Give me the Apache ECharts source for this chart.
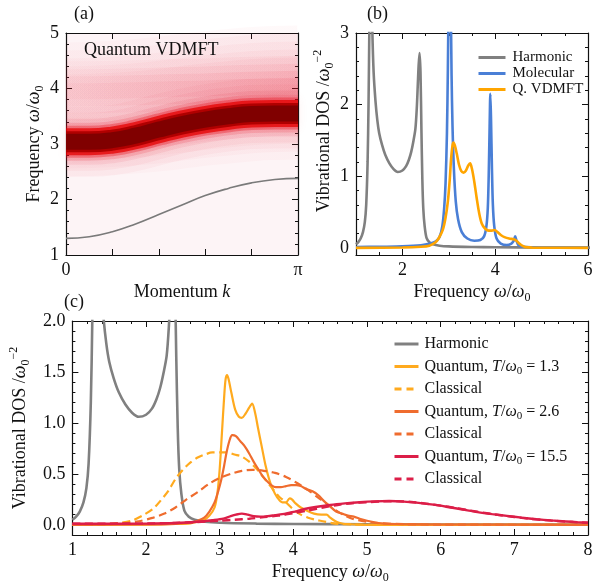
<!DOCTYPE html>
<html>
<head>
<meta charset="utf-8">
<script src="https://cdn.jsdelivr.net/npm/echarts@6/dist/echarts.min.js"></script>
<style>
  html, body { margin: 0; padding: 0; background: #fff; }
  #chart { width: 598px; height: 585px; }
</style>
</head>
<body>
<div id="chart"></div>
<script>
// ---------- (a) spectral function along the Brillouin zone ----------
const kOverPi      = [0, 0.1, 0.2, 0.3, 0.4, 0.5, 0.6, 0.7, 0.8, 0.9, 1.0];
const harmonicBand = [1.30, 1.33, 1.42, 1.56, 1.73, 1.90, 2.07, 2.20, 2.30, 2.36, 2.38];
const mainPeak     = [3.04, 3.04, 3.07, 3.15, 3.26, 3.36, 3.44, 3.50, 3.54, 3.55, 3.55];
const satellite    = [3.95, 3.95, 3.96, 3.97, 3.98, 3.99, 4.00, 4.02, 4.03, 4.04, 4.05];
const hazeCentre   = [3.62, 3.63, 3.65, 3.68, 3.72, 3.77, 3.82, 3.86, 3.90, 3.92, 3.93];

// ---------- (b) densities of states ----------
const harmonicDOS = [
  [1.00,0.05],[1.05,0.08],[1.10,0.13],[1.15,0.22],[1.19,0.36],[1.22,0.60],[1.25,1.20],[1.27,2.00],
  [1.29,3.20],[1.31,4.40],[1.33,4.00],[1.35,3.10],[1.38,2.45],[1.42,2.05],[1.46,1.78],[1.50,1.60],
  [1.56,1.44],[1.63,1.30],[1.72,1.18],[1.81,1.10],[1.90,1.06],[2.00,1.08],[2.08,1.14],[2.14,1.23],
  [2.19,1.34],[2.24,1.50],[2.28,1.66],[2.31,1.95],[2.33,2.25],[2.35,2.55],[2.37,2.72],[2.39,2.45],
  [2.41,1.65],[2.43,0.95],[2.45,0.55],[2.48,0.30],[2.52,0.14],[2.58,0.08],[2.66,0.05],[2.80,0.03],
  [3.00,0.02],[3.50,0.012],[4.00,0.008],[5.00,0.005],[6.00,0.003],[8.00,0.002]
];
const molecularDOS = [
  [1.00,0.01],[1.50,0.015],[2.00,0.02],[2.40,0.035],[2.60,0.06],[2.72,0.09],[2.80,0.15],[2.86,0.30],
  [2.90,0.55],[2.93,0.90],[2.96,1.60],[2.98,2.50],[3.00,3.60],[3.02,4.00],[3.04,3.50],[3.06,2.40],
  [3.08,1.70],[3.11,1.10],[3.15,0.65],[3.20,0.40],[3.28,0.22],[3.40,0.13],[3.55,0.10],[3.68,0.11],
  [3.76,0.16],[3.81,0.30],[3.84,0.55],[3.86,1.00],[3.88,1.70],[3.895,2.15],[3.91,1.80],[3.93,1.10],
  [3.95,0.60],[3.98,0.30],[4.03,0.13],[4.12,0.06],[4.25,0.04],[4.35,0.06],[4.40,0.10],[4.43,0.16],
  [4.46,0.10],[4.50,0.04],[4.60,0.015],[4.80,0.006],[5.00,0.004],[6.00,0.002]
];
const vdmftDOS = [
  [1.00,0.00],[2.00,0.005],[2.40,0.015],[2.58,0.03],[2.70,0.07],[2.78,0.13],[2.87,0.25],[2.93,0.42],
  [2.98,0.65],[3.02,0.95],[3.05,1.25],[3.08,1.43],[3.10,1.47],[3.13,1.43],[3.17,1.32],[3.22,1.16],
  [3.27,1.07],[3.32,1.05],[3.37,1.08],[3.42,1.15],[3.46,1.18],[3.50,1.10],[3.55,0.92],[3.60,0.70],
  [3.65,0.50],[3.71,0.34],[3.78,0.27],[3.86,0.24],[3.93,0.24],[3.99,0.25],[4.05,0.22],[4.12,0.18],
  [4.20,0.15],[4.30,0.13],[4.40,0.12],[4.46,0.10],[4.52,0.06],[4.58,0.03],[4.65,0.01],[4.80,0.003],[6.00,0.00]
];

// ---------- (c) temperature dependence ----------
const temperatures = ['1.3', '2.6', '15.5'];
const quantumLow = [
  [1.00,0.00],[2.00,0.002],[2.40,0.008],[2.60,0.015],[2.70,0.03],[2.79,0.05],[2.86,0.09],[2.93,0.17],
  [2.97,0.32],[3.00,0.55],[3.03,0.90],[3.06,1.25],[3.08,1.43],[3.10,1.47],[3.12,1.43],[3.16,1.29],
  [3.21,1.13],[3.26,1.06],[3.30,1.05],[3.35,1.09],[3.40,1.15],[3.44,1.19],[3.48,1.10],[3.52,0.95],
  [3.57,0.77],[3.62,0.59],[3.67,0.45],[3.72,0.35],[3.78,0.27],[3.85,0.22],[3.90,0.22],[3.95,0.26],
  [3.98,0.25],[4.03,0.21],[4.10,0.17],[4.18,0.14],[4.28,0.11],[4.38,0.10],[4.45,0.10],[4.50,0.07],
  [4.56,0.04],[4.62,0.02],[4.70,0.008],[5.00,0.00],[8.00,0.00]
];
const classicalLow = [
  [1.00,0.00],[1.40,0.005],[1.60,0.015],[1.80,0.04],[1.95,0.09],[2.10,0.16],[2.20,0.24],[2.30,0.33],
  [2.40,0.45],[2.50,0.54],[2.60,0.61],[2.70,0.66],[2.80,0.69],[2.90,0.71],[3.00,0.71],[3.10,0.71],
  [3.20,0.69],[3.30,0.67],[3.40,0.62],[3.50,0.55],[3.60,0.46],[3.70,0.37],[3.80,0.28],[3.90,0.22],
  [4.00,0.15],[4.10,0.10],[4.20,0.07],[4.30,0.05],[4.40,0.035],[4.50,0.02],[4.60,0.01],[4.80,0.003],
  [5.00,0.00],[8.00,0.00]
];
const quantumMid = [
  [1.00,0.00],[2.00,0.003],[2.40,0.01],[2.60,0.02],[2.70,0.04],[2.79,0.07],[2.86,0.13],[2.93,0.22],
  [2.98,0.33],[3.02,0.44],[3.06,0.58],[3.09,0.70],[3.13,0.82],[3.17,0.88],[3.22,0.87],[3.28,0.82],
  [3.34,0.77],[3.40,0.70],[3.46,0.62],[3.52,0.55],[3.58,0.48],[3.64,0.43],[3.70,0.39],[3.76,0.37],
  [3.83,0.37],[3.90,0.38],[3.97,0.39],[4.04,0.39],[4.10,0.38],[4.18,0.35],[4.26,0.33],[4.34,0.29],
  [4.42,0.23],[4.50,0.18],[4.58,0.13],[4.66,0.11],[4.74,0.09],[4.82,0.08],[4.90,0.06],[5.00,0.04],
  [5.10,0.025],[5.20,0.015],[5.40,0.008],[6.00,0.003],[8.00,0.00]
];
const classicalMid = [
  [1.00,0.00],[1.40,0.004],[1.70,0.015],[1.90,0.035],[2.10,0.07],[2.25,0.11],[2.40,0.17],[2.55,0.25],
  [2.70,0.32],[2.85,0.40],[3.00,0.46],[3.15,0.50],[3.30,0.53],[3.45,0.54],[3.60,0.53],[3.75,0.51],
  [3.90,0.47],[4.05,0.41],[4.20,0.34],[4.35,0.26],[4.50,0.18],[4.65,0.11],[4.80,0.06],[5.00,0.03],
  [5.20,0.015],[5.50,0.006],[6.00,0.002],[8.00,0.00]
];
const quantumHigh = [
  [1.00,0.01],[1.50,0.01],[2.00,0.012],[2.40,0.018],[2.70,0.03],[2.90,0.045],[3.05,0.06],[3.15,0.085],
  [3.22,0.10],[3.30,0.11],[3.38,0.10],[3.46,0.085],[3.55,0.08],[3.65,0.085],[3.75,0.095],[3.85,0.105],
  [3.95,0.12],[4.05,0.135],[4.15,0.155],[4.30,0.175],[4.50,0.195],[4.70,0.21],[4.90,0.222],[5.10,0.23],
  [5.30,0.233],[5.50,0.228],[5.70,0.215],[5.90,0.198],[6.10,0.175],[6.30,0.15],[6.50,0.125],[6.70,0.105],
  [6.90,0.088],[7.10,0.07],[7.30,0.055],[7.50,0.043],[7.70,0.033],[7.85,0.026],[8.00,0.02]
];
const classicalHigh = [
  [1.00,0.01],[1.50,0.01],[2.00,0.013],[2.40,0.018],[2.70,0.028],[3.00,0.04],[3.20,0.05],[3.40,0.06],
  [3.60,0.075],[3.80,0.09],[4.00,0.115],[4.20,0.14],[4.40,0.17],[4.60,0.195],[4.80,0.212],[5.00,0.222],
  [5.20,0.23],[5.40,0.232],[5.60,0.224],[5.80,0.208],[6.00,0.188],[6.20,0.165],[6.40,0.14],[6.60,0.117],
  [6.80,0.095],[7.00,0.077],[7.20,0.06],[7.40,0.047],[7.60,0.036],[7.80,0.027],[8.00,0.021]
];

// ---------- tick positions ----------
const kTickFrac   = [0, 0.2, 0.4, 0.6, 0.8, 1.0];
const kLabelFrac  = [0, 1];
const freqTicksA  = [1, 2, 3, 4, 5];
const freqTicksB  = [2, 4, 6];
const dosTicksB   = [0, 1, 2, 3];
const freqTicksC  = [1, 2, 3, 4, 5, 6, 7, 8];
const dosTicksC   = [0, 0.5, 1.0, 1.5, 2.0];

// ---------- helpers ----------
const FONT = '"Liberation Serif", "Times New Roman", serif';
const INK = '#111';
function steps(a, b, d) {
  const out = [];
  const n = Math.round((b - a) / d);
  for (let i = 0; i <= n; i++) out.push(+(a + i * d).toFixed(6));
  return out;
}
const mathRich = {
  i:   { fontFamily: FONT, fontStyle: 'italic', fontSize: 18, color: INK, lineHeight: 24 },
  sub: { fontFamily: FONT, fontSize: 12, color: INK, verticalAlign: 'bottom', lineHeight: 13 },
  sup: { fontFamily: FONT, fontSize: 12, color: INK, verticalAlign: 'top', lineHeight: 13 }
};
const legendRich = {
  i:   { fontFamily: FONT, fontStyle: 'italic', fontSize: 16, color: INK, lineHeight: 20 },
  sub: { fontFamily: FONT, fontSize: 11, color: INK, verticalAlign: 'bottom', lineHeight: 12 }
};

// Four axes per direction: labelled side, its minor ticks, mirrored side, its minor ticks
function frameAxes(grid, isX, min, max, majors, minors, labels, fmt, name, nameGap, margin, namePad) {
  const pos = isX ? ['bottom', 'top'] : ['left', 'right'];
  const base = { gridIndex: grid, type: 'value', min: min, max: max, splitLine: { show: false }, silent: true };
  const line = (show) => ({ show: show, onZero: false, lineStyle: { color: INK, width: 1.2 } });
  const tick = (vals, len) => ({ show: true, inside: true, length: len, customValues: vals, lineStyle: { color: INK, width: 1 } });
  return [
    Object.assign({}, base, {
      position: pos[0], axisLine: line(true), axisTick: tick(majors, 6),
      axisLabel: { show: true, customValues: labels, formatter: fmt, margin: margin, color: INK,
                   fontFamily: FONT, fontSize: 18, showMinLabel: true, showMaxLabel: true },
      name: name, nameLocation: 'middle', nameGap: nameGap,
      nameTextStyle: { fontFamily: FONT, fontSize: 18, color: INK, lineHeight: 24, rich: mathRich,
                       padding: namePad || 0 }
    }),
    Object.assign({}, base, { position: pos[0], axisLine: line(false), axisTick: tick(minors, 3), axisLabel: { show: false } }),
    Object.assign({}, base, { position: pos[1], axisLine: line(true), axisTick: tick(majors, 6), axisLabel: { show: false } }),
    Object.assign({}, base, { position: pos[1], axisLine: line(false), axisTick: tick(minors, 3), axisLabel: { show: false } })
  ];
}

const PI = Math.PI;
const xAxes = [].concat(
  frameAxes(0, true, 0, PI, kTickFrac.map(f => f * PI), [], kLabelFrac.map(f => f * PI),
            v => (v < 1e-6 ? '0' : 'π'), 'Momentum {i|k}', 21, 6),
  frameAxes(1, true, 1, 6, freqTicksB, steps(1, 6, 0.5), freqTicksB, v => String(v),
            'Frequency {i|ω}/{i|ω}{sub|0}', 20, 6),
  frameAxes(2, true, 1, 8, freqTicksC, steps(1, 8, 0.2), freqTicksC, v => String(v),
            'Frequency {i|ω}/{i|ω}{sub|0}', 25, 6)
);
const yAxes = [].concat(
  frameAxes(0, false, 1, 5, freqTicksA, steps(1, 5, 0.2), freqTicksA, v => String(v),
            'Frequency {i|ω}/{i|ω}{sub|0}', 18, 7),
  frameAxes(1, false, -0.1, 3, dosTicksB, steps(0, 3, 0.2), dosTicksB, v => String(v),
            'Vibrational DOS /{i|ω}{sub|0}{sup|−2}', 20, 7, [0, 0, 0, 26]),
  frameAxes(2, false, -0.1, 2.0, dosTicksC, steps(0, 2, 0.1), dosTicksC, v => v.toFixed(1),
            'Vibrational DOS /{i|ω}{sub|0}{sup|−2}', 30, 7)
);

// ---------- (a) band layers drawn along the peak positions ----------
const toK = arr => kOverPi.map((f, i) => [f * PI, arr[i]]);
const RED = a => 'rgba(232,20,45,' + a + ')';
function band(arr, width, color, glow) {
  return {
    type: 'line', xAxisIndex: 0, yAxisIndex: 0, data: toK(arr), smooth: true,
    symbol: 'none', silent: true, clip: true,
    lineStyle: { width: width, color: color, cap: 'butt',
                 shadowBlur: glow ? 12 : 0, shadowColor: glow || 'rgba(0,0,0,0)' }
  };
}
function fadeRight(a0, a1) {
  return new echarts.graphic.LinearGradient(0, 0, 1, 0, [
    { offset: 0, color: RED(a0) }, { offset: 1, color: RED(a1) }
  ]);
}
const bandSeries = [
  band(hazeCentre, 134, fadeRight(0.02, 0.028), RED(0.02)),
  band(hazeCentre, 118, fadeRight(0.022, 0.03), RED(0.02)),
  band(hazeCentre, 102, fadeRight(0.025, 0.035), RED(0.02)),
  band(hazeCentre, 86, fadeRight(0.025, 0.04), RED(0.02)),
  band(hazeCentre, 70, fadeRight(0.025, 0.045), RED(0.02)),
  band(satellite, 60, fadeRight(0.015, 0.05), RED(0.02)),
  band(satellite, 44, fadeRight(0.025, 0.07), RED(0.03)),
  band(satellite, 30, fadeRight(0.03, 0.09), RED(0.04)),
  band(satellite, 16, fadeRight(0.03, 0.08), RED(0.04)),
  band(mainPeak, 70, RED(0.035), RED(0.02)),
  band(mainPeak, 58, RED(0.045), RED(0.03)),
  band(mainPeak, 46, RED(0.07), RED(0.04)),
  band(mainPeak, 38, 'rgba(232,15,35,0.15)', RED(0.08)),
  band(mainPeak, 32, 'rgba(232,10,20,0.33)', 'rgba(232,10,20,0.2)'),
  band(mainPeak, 27, 'rgba(228,0,0,0.75)'),
  band(mainPeak, 21, '#b00000'),
  band(mainPeak, 16, '#800000'),
  {
    type: 'line', xAxisIndex: 0, yAxisIndex: 0, data: toK(harmonicBand), smooth: true,
    symbol: 'none', silent: true, lineStyle: { width: 1.6, color: '#7a7a7a' }
  }
];

// ---------- (b) and (c) curves ----------
function curve(name, data, grid, color, width, dashed) {
  return {
    name: name, type: 'line', xAxisIndex: grid * 4, yAxisIndex: grid * 4, data: data,
    smooth: 0.3, symbol: 'none', showSymbol: false, clip: true,
    lineStyle: { color: color, width: width, type: dashed ? [8, 4.5] : 'solid' },
    itemStyle: { color: color }
  };
}
const GREY = '#808080', BLUE = '#4a7fd6', ORANGE = '#ffa500';
const C_LOW = '#ffaa1e', C_MID = '#ef6c2e', C_HIGH = '#dc1e48';

const curveSeries = [
  curve('Harmonic', harmonicDOS, 1, GREY, 2.6),
  curve('Molecular', molecularDOS, 1, BLUE, 2.6),
  curve('Q. VDMFT', vdmftDOS, 1, ORANGE, 2.6),
  curve('Harmonic chain', harmonicDOS, 2, GREY, 2.6),
  curve('Quantum ' + temperatures[0], quantumLow, 2, C_LOW, 2.2),
  curve('Classical ' + temperatures[0], classicalLow, 2, C_LOW, 2.2, true),
  curve('Quantum ' + temperatures[1], quantumMid, 2, C_MID, 2.2),
  curve('Classical ' + temperatures[1], classicalMid, 2, C_MID, 2.2, true),
  curve('Quantum ' + temperatures[2], quantumHigh, 2, C_HIGH, 2.4),
  curve('Classical ' + temperatures[2], classicalHigh, 2, C_HIGH, 2.4, true)
];

function legendName(name) {
  if (name === 'Harmonic chain') return 'Harmonic';
  if (name.indexOf('Classical') === 0) return 'Classical';
  if (name.indexOf('Quantum ') === 0) {
    return 'Quantum, {i|T}/{i|ω}{sub|0} = ' + name.slice(8);
  }
  return name;
}
// legend entries: plain line glyphs, dashed for the classical curves
function legendEntry(s) {
  const dashed = s.name.indexOf('Classical') === 0;
  return { name: s.name, lineStyle: { width: 3, type: dashed ? [7, 5] : 'solid' } };
}
const hiddenMarker = { color: 'rgba(0,0,0,0)', borderWidth: 0, opacity: 0 };

const chart = echarts.init(document.getElementById('chart'), null, { renderer: 'canvas' });
chart.setOption({
  animation: false,
  backgroundColor: '#ffffff',
  grid: [
    { left: 66, top: 33, width: 232, height: 222, show: true, backgroundColor: '#fdf4f6', borderWidth: 0 },
    { left: 356, top: 33, width: 232, height: 222 },
    { left: 66, top: 321, width: 522, height: 221 }
  ],
  xAxis: xAxes,
  yAxis: yAxes,
  legend: [
    {
      data: curveSeries.slice(0, 3).map(legendEntry), orient: 'vertical', left: 472, top: 45,
      itemWidth: 27, itemHeight: 14, itemGap: 1, selectedMode: false, itemStyle: hiddenMarker,
      textStyle: { fontFamily: FONT, fontSize: 15, color: INK, padding: [0, 0, 0, 2] }
    },
    {
      data: curveSeries.slice(3).map(legendEntry), orient: 'vertical', left: 388, top: 329,
      itemWidth: 24, itemHeight: 14, itemGap: 2.5, selectedMode: false, formatter: legendName,
      itemStyle: hiddenMarker,
      textStyle: { fontFamily: FONT, fontSize: 16, color: INK, lineHeight: 20, padding: [0, 0, 0, 1], rich: legendRich }
    }
  ],
  graphic: [
    { type: 'text', left: 74, top: 5, style: { text: '(a)', font: '18px "Liberation Serif"', fill: INK } },
    { type: 'text', left: 367, top: 5, style: { text: '(b)', font: '18px "Liberation Serif"', fill: INK } },
    { type: 'text', left: 64, top: 293, style: { text: '(c)', font: '18px "Liberation Serif"', fill: INK } },
    { type: 'text', left: 84, top: 41, z: 100, style: { text: 'Quantum VDMFT', font: '18px "Liberation Serif"', fill: INK } }
  ],
  series: bandSeries.concat(curveSeries)
});
</script>
</body>
</html>
